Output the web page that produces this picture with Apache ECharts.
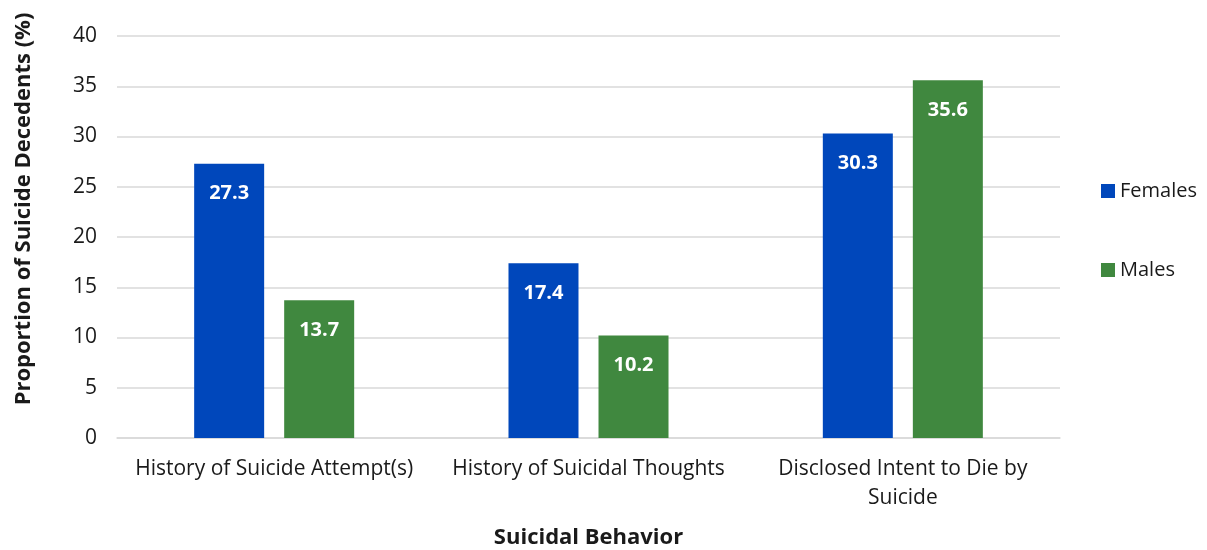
<!DOCTYPE html>
<html>
<head>
<meta charset="utf-8">
<script src="https://cdn.jsdelivr.net/npm/echarts@6/dist/echarts.min.js"></script>
<style>
  html, body { margin: 0; padding: 0; background: #ffffff; }
  #chart { width: 1207px; height: 550px; }
</style>
</head>
<body>
<div id="chart"></div>
<script>
// Suicidal behavior categories and proportion of decedents by sex
const categories = ['History of Suicide Attempt(s)', 'History of Suicidal Thoughts', 'Disclosed Intent to Die by\nSuicide'];
const females = [27.3, 17.4, 30.3];
const males = [13.7, 10.2, 35.6];
const yTicks = { min: 0, max: 40, interval: 5 };

const FONT = '"Open Sans", "Noto Sans", sans-serif';

const chart = echarts.init(document.getElementById('chart'), null, { renderer: 'canvas' });

const labelStyle = {
  show: true,
  position: 'insideTop',
  distance: 20,
  color: '#ffffff',
  fontFamily: FONT,
  fontWeight: 'bold',
  fontSize: 20,
  formatter: p => p.value.toFixed(1)
};

chart.setOption({
  animation: false,
  backgroundColor: '#ffffff',
  textStyle: { fontFamily: FONT },
  grid: { left: 117, right: 147, top: 36, bottom: 112, containLabel: false, outerBoundsMode: 'none' },
  legend: {
    orient: 'vertical',
    left: 1096,
    top: 176,
    itemGap: 59,
    itemWidth: 14,
    itemHeight: 14,
    icon: 'rect',
    textStyle: { fontFamily: FONT, fontSize: 20, color: '#1a1a1a' },
    data: ['Females', 'Males']
  },
  xAxis: {
    type: 'category',
    data: categories,
    name: 'Suicidal Behavior',
    nameLocation: 'middle',
    nameGap: 89,
    nameTextStyle: { fontFamily: FONT, fontSize: 22, fontWeight: 'bold', color: '#1a1a1a' },
    axisLine: { show: true, lineStyle: { color: '#d9d9d9', width: 1.5 } },
    axisTick: { show: false },
    axisLabel: { fontFamily: FONT, fontSize: 21, color: '#1a1a1a', margin: 17, lineHeight: 29, interval: 0 }
  },
  yAxis: {
    type: 'value',
    min: yTicks.min,
    max: yTicks.max,
    interval: yTicks.interval,
    name: 'Proportion of Suicide Decedents (%)',
    nameLocation: 'middle',
    nameGap: 82,
    nameRotate: 90,
    nameTextStyle: { fontFamily: FONT, fontSize: 22, fontWeight: 'bold', color: '#1a1a1a', padding: [0, 0, 0, 56] },
    axisLine: { show: false },
    axisTick: { show: false },
    axisLabel: { fontFamily: FONT, fontSize: 21, color: '#1a1a1a', margin: 20 },
    splitLine: { show: true, lineStyle: { color: '#d9d9d9', width: 1.5 } }
  },
  series: [
    {
      name: 'Females',
      type: 'bar',
      data: females,
      barWidth: 70,
      barGap: '28.6%',
      itemStyle: { color: '#0047bb' },
      label: labelStyle
    },
    {
      name: 'Males',
      type: 'bar',
      data: males,
      barWidth: 70,
      barGap: '28.6%',
      itemStyle: { color: '#40883f' },
      label: labelStyle
    }
  ]
});
</script>
</body>
</html>
